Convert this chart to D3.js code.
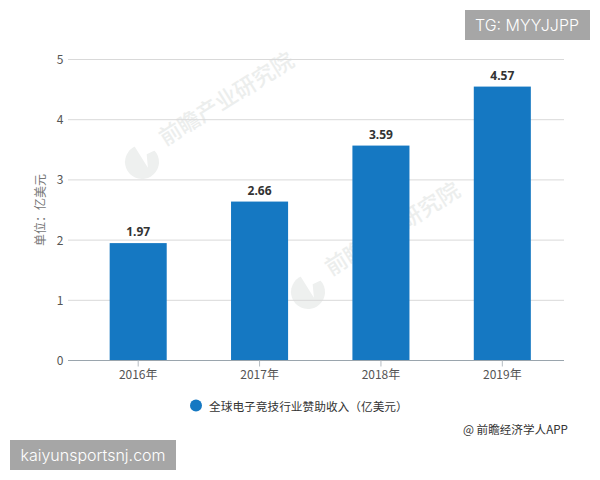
<!DOCTYPE html>
<html><head><meta charset="utf-8">
<script src="https://cdn.jsdelivr.net/npm/d3@7/dist/d3.min.js"></script>
<style>html,body{margin:0;padding:0;background:#fff}svg{display:block}</style></head>
<body><svg id="c" width="600" height="480"></svg>
<script>
const categories=["2016年","2017年","2018年","2019年"];
const values=[1.97,2.66,3.59,4.57];
const yTicks=[0,1,2,3,4,5];
const seriesName="全球电子竞技行业赞助收入（亿美元）";
const yTitle="单位：亿美元";
const source="@ 前瞻经济学人APP";
const watermarkMain="前瞻产业研究院";
const tagTop="TG: MYYJJPP";
const tagBottom="kaiyunsportsnj.com";
const font="'Noto Sans CJK SC','Noto Sans',sans-serif";
const svg=d3.select("#c").style("font-family",font);
const x=d3.scaleBand().domain(categories).range([77.5,563]).paddingInner(0.53).paddingOuter(0.265);
const y=d3.scaleLinear().domain([0,5]).range([360.5,59.5]);
const barShift=1.2;

// watermarks
[[142,162],[308,292]].forEach(([cx,cy])=>{
  const g=svg.append("g").attr("transform",`translate(${cx},${cy}) rotate(-32)`);
  g.append("circle").attr("r",17).attr("fill","#eef0ef");
  g.append("path").attr("d","M2,-18 L18,-18 L18,-3 L8,-4 L2,8 Z").attr("fill","#fff");
  g.append("text").attr("x",28).attr("y",-1).attr("font-size",22).attr("font-weight",500).attr("fill","#eceeed").text(watermarkMain);
});

// grid
svg.append("g").selectAll("line").data(yTicks.filter(d=>d>0)).join("line")
 .attr("x1",68).attr("x2",564).attr("y1",d=>y(d)).attr("y2",d=>y(d))
 .attr("stroke","#d9d9d9").attr("stroke-width",1);
// y labels
svg.append("g").selectAll("text").data(yTicks).join("text")
 .attr("x",60).attr("y",d=>y(d)+4.5).attr("text-anchor","middle").attr("font-size",12).attr("fill","#555").text(d=>d);
// y title
svg.append("text").attr("transform","translate(45,210) rotate(-90)").attr("text-anchor","middle")
 .attr("font-size",12).attr("fill","#777").text(yTitle);
// bars
svg.append("g").selectAll("rect").data(values).join("rect")
 .attr("x",(d,i)=>x(categories[i])).attr("width",x.bandwidth())
 .attr("y",d=>y(d)+barShift).attr("height",d=>y(0)-y(d)-barShift).attr("fill","#1578c2");
// value labels
svg.append("g").selectAll("text").data(values).join("text")
 .attr("x",(d,i)=>x(categories[i])+x.bandwidth()/2).attr("y",d=>y(d)+barShift-7)
 .attr("text-anchor","middle").attr("font-size",12).attr("font-weight",700)
 .attr("font-family","'Noto Sans',sans-serif").attr("fill","#333").text(d=>d.toFixed(2));
// x axis
svg.append("line").attr("x1",68).attr("x2",564).attr("y1",y(0)).attr("y2",y(0)).attr("stroke","#9aa5ad").attr("stroke-width",1);
const xg=svg.append("g").selectAll("g").data(categories).join("g")
 .attr("transform",d=>`translate(${x(d)+x.bandwidth()/2},0)`);
xg.append("line").attr("y1",y(0)).attr("y2",y(0)+6).attr("stroke","#b5bcc2");
xg.append("text").attr("y",379).attr("text-anchor","middle").attr("font-size",12).attr("fill","#555").text(d=>d);
// legend
svg.append("circle").attr("cx",196).attr("cy",405.5).attr("r",6).attr("fill","#1578c2");
svg.append("text").attr("x",209).attr("y",410.5).attr("font-size",11.7).attr("fill","#333").text(seriesName);
// source
svg.append("text").attr("x",463).attr("y",434).attr("font-size",11.6).attr("fill","#333").text(source);
// tags
svg.append("rect").attr("x",465).attr("y",10).attr("width",125).attr("height",30).attr("fill","#a6a6a6");
svg.append("text").attr("x",527).attr("y",31).attr("text-anchor","middle").attr("font-size",16).attr("fill","#fff").attr("font-family","'Inter','Noto Sans',sans-serif").attr("font-weight",300).text(tagTop);
svg.append("rect").attr("x",10).attr("y",440).attr("width",166).attr("height",30).attr("fill","#a6a6a6");
svg.append("text").attr("x",93).attr("y",460.5).attr("text-anchor","middle").attr("font-size",16).attr("fill","#fff").attr("font-family","'Inter','Noto Sans',sans-serif").attr("font-weight",300).text(tagBottom);
</script></body></html>
